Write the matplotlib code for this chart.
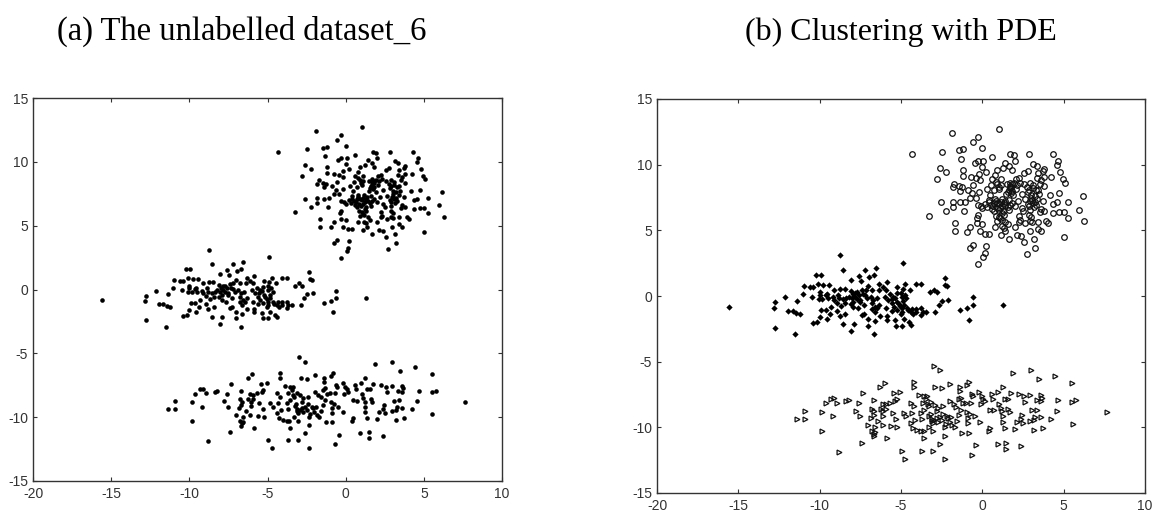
import numpy as np
import matplotlib
matplotlib.use("Agg")
import matplotlib.pyplot as plt

# values, (x, y) in data units
upper_points = [
    (1.05,12.73),(-1.87,12.4),(-0.27,12.14),(-0.56,11.7),(0,11.25),(-4.3,10.8),(-2.5,11.0),(-1.46,11.1),(-1.17,11.17),
    (-1.32,10.46),(0.58,10.56),(1.73,10.8),(1.95,10.7),(2.02,10.3),(2.86,10.8),(4.32,10.8),(4.65,10.3),(4.57,9.95),
    (4.79,9.41),(4.94,8.9),(5.08,8.62),(4.24,9.06),(-2.63,9.77),(-2.22,9.41),(-2.78,8.9),(-0.47,10.13),(-0.27,10.3),
    (0.06,10.3),(0,9.85),(-1.17,9.6),(-1.17,9.16),(-0.72,9.06),(-0.2,9.3),(0.2,9.41),(-0.41,9),(-0.14,8.8),(-1.73,8.55),
    (-1.81,8.27),(-1.46,8.37),(-1.28,8.27),(-1.38,8.0),(-0.88,8.09),(-0.56,8.44),(-0.62,7.83),(-0.2,7.9),(-2.57,7.12),
    (-1.81,7.19),(-1.38,7.12),(-1.09,7.19),(-1.81,6.76),(-2.22,6.5),(-1.11,6.5),(-3.25,6.07),(-0.76,7.47),(-0.41,7.47),
    (-0.27,6.94),(0,6.68),(-0.27,6.17),(-0.35,5.97),(-1.65,5.54),(-1.67,4.92),(-0.76,5.28),(-0.97,4.9),(-0.33,5.54),
    (0,5.46),(-0.14,4.92),(0.16,4.74),(0.39,4.74),(-0.56,3.88),(-0.76,3.67),(0.2,3.8),(0.14,3.24),(0.06,2.98),(-0.27,2.45),
    (0.76,5.28),(1.13,4.67),(1.38,4.92),(1.67,4.31),(2.12,4.67),(2.39,4.57),(2.57,4.13),(3.15,4.31),(3.21,3.67),(2.72,3.16),
    (5,4.49),(3.62,4.92),(2.94,4.92),(3.4,5.1),(3.4,5.64),(3.91,5.71),(4.03,5.54),(2.65,5.54),(2.26,5.64),(1.58,5.46),
    (5.29,5.97),(4.36,6.33),(4.73,6.4),(5,6.4),(6.26,5.71),(5.97,6.58),(5.29,7.19),(6.19,7.63),(4.73,7.83),(4.16,7.7),
    (4.36,7.02),(4.57,7.12),(3.77,6.5),(3.54,6.4),(3.13,10.03),(3.33,9.92),(3.81,9.67),(3.7,9.49),(3.77,9.06),(3.6,8.85),
    (3.4,9.34),(3.33,8.98),(3.54,8.55),(3.77,8.34),(3.4,8.09),(2.78,9.49),(2.57,9.34),(2.26,8.98),(1.81,9.6),(1.67,9.92),
    (1.4,10.13),(1.26,9.77),(0.91,9.6),(0.76,9.23),(0.62,8.9),(1.13,8.9),(0.93,8.55),(0.51,8.44),
    (1.12,8.48),(1.52,8.52),(1.68,8.41),(1.93,8.6),(2.14,8.47),(2.33,8.63),(2.58,8.5),(2.92,8.58),(3.12,8.44),
    (0.28,8.12),(0.71,8.05),(1.02,8.16),(1.71,8.2),(1.83,8.02),(2.09,8.15),(2.88,8.1),(3.09,8.2),(3.31,8.04),
    (0.47,7.72),(1.48,7.75),(1.91,7.66),(2.42,7.78),(3.02,7.7),(3.21,7.62),(3.5,7.74),
    (0.38,7.33),(0.82,7.26),(1.18,7.38),(1.62,7.3),(2.21,7.24),(2.63,7.36),(3.03,7.28),(3.38,7.4),(3.72,7.22),
    (0.19,7.02),(0.52,6.96),(0.71,7.08),(1.03,6.98),(1.33,7.05),(1.68,6.94),(1.84,7.1),(2.82,7.0),(3.29,6.95),
    (-0.09,6.82),(0.31,6.75),(0.63,6.86),(0.88,6.72),(1.21,6.84),(1.58,6.77),(2.03,6.83),(2.41,6.72),(2.87,6.85),(3.18,6.74),
    (0.72,6.48),(1.01,6.55),(1.29,6.44),(1.62,6.52),(2.51,6.46),(2.93,6.53),(3.58,6.6),
    (0.83,6.12),(1.04,6.04),(1.31,6.18),(2.28,6.07),(2.89,6.15),(3.02,6.0),
    (0.9,5.72),(1.18,5.8),(1.42,5.66),(2.33,5.75),(2.91,5.7),(3.04,5.62),
    (1.2,5.32),(1.31,5.18),(2.02,5.26),
    (0.42,7.12),(0.93,7.05),(1.14,7.18),(1.42,6.9),(0.61,6.62),(0.78,7.42),(1.08,6.7),(1.37,7.22),
    (1.71,8.62),(1.79,8.33),(1.62,8.1),(1.58,7.92),(1.76,7.84),(1.83,8.5),(2.1,8.9),(0.82,8.7),(1.0,8.32),
    (2.75,8.3),(2.81,7.92),(3.02,7.5),(3.1,7.05),(2.95,7.25),(3.25,7.15),(1.1,5.95),(1.22,6.3),
]

middle_points = [
    (-15.58,-0.85),(-8.76,3.10),(-4.88,2.52),(-8.55,2.0),(-7.23,2.0),(-6.54,2.13),(-7.57,1.53),(-6.67,1.61),(-6.95,1.48),
    (-10.21,1.61),(-9.93,1.61),(-8.06,1.19),(-7.44,1.11),(-2.32,1.35),(-4.05,0.88),(-3.75,0.88),(-2.28,0.83),(-2.17,0.75),
    (-10.08,0.88),(-9.78,0.8),(-9.44,0.83),(-10.96,0.75),(-10.59,0.67),(-10.42,0.7),(-7.0,0.75),(-6.33,0.88),(-5.84,1.06),
    (-6.12,0.7),(-4.73,0.88),(-5.22,0.7),(-4.88,0.56),(-4.45,0.49),(-8.74,0.56),(-8.46,0.56),(-9.1,0.49),(-2.96,0.49),
    (-3.24,0.3),(-2.81,0.3),(-11.02,0.15),(-10.47,-0.04),(-10.0,0.3),(-10.0,0.1),(-9.57,0.15),(-10.06,-0.22),(-9.83,-0.22),
    (-9.49,-0.17),(-9.64,0.04),(-12.13,-0.11),(-12.75,-0.48),(-11.38,-0.38),(-12.83,-0.92),(-11.92,-1.16),(-11.66,-1.16),
    (-11.45,-1.29),(-11.23,-1.37),(-12.75,-2.41),(-11.51,-2.93),(-10.42,-2.07),(-10.17,-1.99),(-10.0,-1.6),(-9.91,-1.03),
    (-9.63,-1.03),(-9.57,-1.76),(-9.36,-1.34),(-8.95,-1.16),(-8.78,-1.55),(-8.42,-1.34),(-9.31,-0.82),(-8.93,-0.51),
    (-9.21,-0.09),(-8.89,0.09),(-9.1,-0.3),(-8.82,-0.17),(-8.57,-0.25),(-8.36,-0.17),(-8.42,-0.56),(-8.68,-0.77),
    (-8.08,0.36),(-7.71,0.3),(-7.4,0.43),(-7.18,0.49),(-7.82,-0.04),(-7.61,0.09),(-8.04,-0.17),(-7.93,-0.43),(-7.5,-0.3),
    (-7.29,-0.69),(-7.08,-0.17),(-6.86,-0.04),(-7.93,-0.82),(-7.65,-0.95),(-8.08,-0.61),(-6.76,0.49),(-6.37,0.49),(-5.95,0.49),
    (-6.5,-0.17),(-6.01,-0.04),(-5.8,-0.3),(-5.48,-0.04),(-5.22,-0.43),(-4.94,-0.04),(-4.67,-0.17),(-5.58,-0.56),(-5.26,0.22),
    (-5.05,-0.77),(-4.84,-0.69),(-4.63,-0.95),(-6.76,-0.56),(-6.59,-0.82),(-6.76,-1.0),(-6.33,-0.69),(-5.9,-0.95),(-5.58,-1.13),
    (-5.26,-1.08),(-4.94,-0.95),(-4.41,-1.21),(-7.4,-1.47),(-7.27,-1.34),(-7.0,-1.76),(-6.61,-1.92),(-7.0,-2.26),(-6.29,-1.53),
    (-5.86,-1.55),(-5.86,-1.79),(-5.37,-1.81),(-5.01,-1.34),(-4.84,-1.73),(-4.52,-1.99),(-5.31,-2.26),(-4.94,-2.26),(-4.41,-2.18),
    (-8.55,-2.15),(-7.91,-2.15),(-8.06,-2.67),(-6.67,-2.93),(-4.09,-1.0),(-3.77,-0.95),(-3.66,-1.21),(-4.09,-1.21),(-3.77,-1.47),
    (-3.45,-1.21),(-2.88,-1.21),(-2.49,-0.35),(-2.64,-0.69),(-2.11,-0.3),(-1.36,-1.08),(-0.93,-0.92),(-0.59,-0.69),(-0.59,-0.11),
    (-0.79,-1.79),(1.28,-0.65),
    (-7.95,0.12),(-7.82,0.25),(-7.7,-0.2),(-7.55,-0.45),(-7.35,0.15),(-7.2,0.05),(-8.2,-0.05),
    (-5.7,0.12),(-5.55,-0.25),(-5.35,-0.15),(-5.15,-0.6),(-5.0,0.25),(-4.85,-0.4),(-4.75,0.1),(-4.95,-1.2),(-5.45,-0.8),
    (-6.6,-1.2),(-6.45,-0.95),(-6.7,-0.3),(-4.6,-1.1),(-4.3,-1.0),(-4.25,-1.35),
]

lower_points = [
    (-11.38,-9.35),(-10.89,-8.72),(-10.89,-9.35),(-9.85,-8.83),(-9.85,-10.29),(-9.17,-9.17),(-9.64,-8.18),(-9.32,-7.81),(-9.1,-7.76),
    (-8.93,-8.12),(-8.36,-7.99),(-8.21,-7.92),(-8.83,-11.88),(-7.76,-8.72),(-7.5,-9.17),(-7.57,-8.18),(-7.31,-7.39),(-7.38,-11.18),
    (-6.69,-7.92),(-6.27,-6.95),(-5.97,-6.61),(-7.01,-9.82),(-6.82,-9.3),(-6.59,-9.95),(-6.39,-9.51),(-6.12,-9.82),(-6.76,-8.59),
    (-6.65,-8.78),(-6.69,-9.04),(-6.76,-10.29),(-6.65,-10.47),(-6.69,-10.68),(-6.59,-10.34),(-6.12,-8.2),(-5.91,-8.26),(-6.22,-8.59),
    (-6.08,-8.78),(-5.91,-8.59),(-5.69,-8.12),(-6.08,-9.12),(-5.84,-10.81),(-5.63,-9.87),(-5.52,-8.91),(-5.31,-9.38),(-5.22,-9.95),
    (-5.37,-7.99),(-5.44,-7.39),(-5.05,-7.34),(-5.26,-7.86),(-4.95,-11.78),(-4.73,-12.41),(-4.84,-8.91),(-4.67,-9.17),(-4.41,-8.12),
    (-4.2,-8.39),(-4.31,-8.91),(-4.16,-9.43),(-4.41,-9.69),(-4.24,-10.08),(-3.99,-10.21),(-3.77,-10.27),(-3.6,-10.27),(-4.2,-6.56),
    (-4.2,-6.9),(-3.88,-7.55),(-3.56,-7.6),(-3.45,-7.86),(-3.35,-8.25),(-3.13,-8.07),(-3.67,-8.12),(-3.77,-8.91),(-3.56,-8.65),
    (-3.18,-8.96),(-3.09,-9.38),(-3.03,-9.69),(-2.81,-9.3),(-2.96,-5.3),(-2.6,-5.64),(-2.88,-6.95),(-2.47,-7.03),(-1.98,-6.69),
    (-3.71,-9.38),(-3.28,-9.95),(-3.03,-10.29),(-3.56,-10.81),(-3.71,-11.78),(-3.03,-11.78),(-2.6,-11.26),(-2.32,-10.63),(-2.32,-12.41),
    (-2.71,-8.52),(-2.39,-8.39),(-2.81,-8.78),(-2.49,-9.43),(-2.17,-9.17),(-2.32,-9.95),(-2,-9.56),(-1.85,-9.82),(-1.68,-9.95),
    (-1.43,-9.04),(-1.32,-8.65),(-1.96,-7.99),(-1.74,-8.25),(-1.43,-7.86),(-1.36,-6.95),(-1.36,-7.21),(-0.96,-6.77),(-0.83,-6.56),
    (-1.32,-7.73),(-0.62,-7.47),(-0.58,-7.65),(-1,-8.12),(-0.68,-8.12),(-0.92,-8.83),(-0.87,-9.3),(-0.87,-9.69),(-0.47,-9.17),
    (-0.15,-9.61),(-1.28,-10.4),(-0.85,-10.4),(-0.4,-11.36),(-0.66,-12.07),(-0.19,-7.34),(-0.04,-7.6),(0.07,-7.81),(0.17,-7.99),
    (-0.11,-8.2),(0.62,-7.47),(0.66,-7.81),(0.98,-7.34),(1.26,-6.95),(1.75,-7.39),(2.24,-7.47),(0.49,-8.65),(0.7,-8.7),(1.05,-8.2),
    (1.13,-8.52),(1.39,-7.81),(1.56,-7.81),(1.6,-8.57),(1.69,-8.83),(1.22,-8.78),(1.26,-9.17),(0.4,-10.27),(0.49,-10.08),(1.24,-9.61),
    (1.39,-10.08),(1.98,-10.14),(0.94,-11.26),(1.47,-11.2),(1.47,-11.65),(2.39,-11.44),(1.9,-5.83),(2.99,-5.64),(3.48,-6.35),
    (4.46,-6.09),(5.5,-6.61),(2.56,-7.65),(2.62,-8.05),(2.94,-7.55),(3.63,-7.55),(3.69,-7.73),(3.37,-7.92),(3.63,-7.99),(4.67,-7.92),
    (5.5,-8.05),(5.76,-7.92),(3.07,-8.7),(3.39,-8.65),(4.59,-8.72),(2.45,-9.04),(2.37,-9.38),(2.15,-9.56),(2.52,-9.69),(2.94,-9.51),
    (3.2,-9.43),(3.26,-9.22),(3.63,-9.25),(4.24,-9.33),(3.2,-10.21),(3.75,-10.03),(5.55,-9.77),(7.65,-8.85),
    (-3.25,-9.12),(-3.12,-9.55),(-2.95,-9.45),(-2.7,-9.6),(-2.6,-9.2),(-2.4,-9.0),(-2.25,-9.75),(-2.1,-9.3),(-1.9,-9.2),(-1.55,-9.5),
    (-1.6,-8.45),(-1.2,-8.15),(-0.75,-9.0),(-3.4,-7.65),(-3.28,-8.4),(-2.9,-8.3),
]

x_ticks = [-20, -15, -10, -5, 0, 5, 10]
y_ticks = [-15, -10, -5, 0, 5, 10, 15]
title_a = "(a) The unlabelled dataset_6"
title_b = "(b) Clustering with PDE"

W, H = 1154, 512

plt.rcParams["font.family"] = ["Liberation Sans", "DejaVu Sans"]
plt.rcParams["axes.unicode_minus"] = False


def make_axes(fig, left, right, top, bottom):
    ax = fig.add_axes([left / W, (H - bottom) / H, (right - left) / W, (bottom - top) / H])
    ax.set_xlim(-20, 10)
    ax.set_ylim(-15, 15)
    ax.set_xticks(x_ticks)
    ax.set_yticks(y_ticks)
    ax.tick_params(direction="in", top=True, right=True, length=3.2, width=0.8,
                   color="#333333", labelcolor="#333333", labelsize=10, pad=3.5)
    ax.tick_params(axis="x", pad=4.5)
    for spine in ax.spines.values():
        spine.set_color("#333333")
        spine.set_linewidth(1.0)
    return ax


fig = plt.figure(figsize=(W / 100, H / 100), dpi=100)

ax_a = make_axes(fig, 33, 502, 98, 481)
for points in [upper_points, middle_points, lower_points]:
    pts = np.array(points)
    ax_a.plot(pts[:, 0], pts[:, 1], linestyle="none", marker="o", markersize=3.3, color="black", markeredgewidth=0)

ax_b = make_axes(fig, 657, 1145, 99, 493)
upper = np.array(upper_points)
middle = np.array(middle_points)
lower = np.array(lower_points)
ax_b.plot(upper[:, 0], upper[:, 1], linestyle="none", marker="o", markersize=4.0,
          markerfacecolor="none", markeredgecolor="#111111", markeredgewidth=0.9)
ax_b.plot(middle[:, 0], middle[:, 1], linestyle="none", marker="D", markersize=3.2, color="black", markeredgewidth=0)
ax_b.plot(lower[:, 0], lower[:, 1], linestyle="none", marker=">", markersize=3.5,
          markerfacecolor="none", markeredgecolor="#111111", markeredgewidth=0.9)

fig.text(57 / W, (H - 40) / H, title_a, family="Liberation Serif", fontsize=23.5, color="black", va="baseline")
fig.text(745 / W, (H - 40) / H, title_b, family="Liberation Serif", fontsize=23, color="black", va="baseline")

fig.savefig("out.png", dpi=100)
